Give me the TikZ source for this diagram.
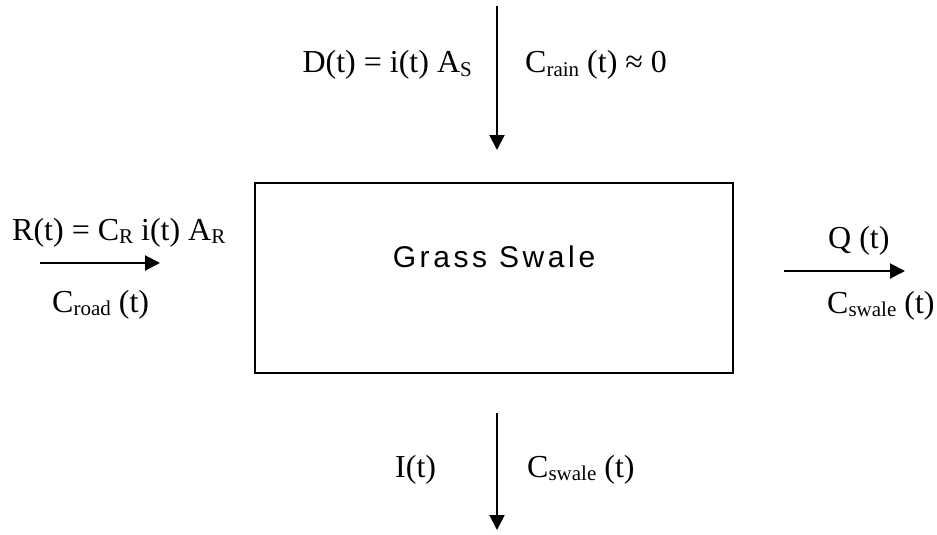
\documentclass[tikz,border=0pt]{standalone}
\usepackage{fontspec}
\setmainfont{Liberation Serif}
\newfontfamily\boxfont[LetterSpace=12]{Liberation Sans}
\usetikzlibrary{arrows.meta}
\newcommand\subtxt[1]{\raisebox{-0.12em}{\fontsize{21}{21}\selectfont #1}}
\begin{document}
\begin{tikzpicture}[x=1pt,y=-1pt,
  lbl/.style={inner sep=0pt,font=\fontsize{32}{38}\selectfont},
  flow/.style={line width=2pt,-{Triangle[length=15pt,width=15pt]}},
  boxst/.style={draw,line width=2pt}]
\useasboundingbox (0,0) rectangle (937,535);
\draw[boxst] (255,183) rectangle (733,373);
\node[inner sep=0pt,anchor=base,font=\boxfont\fontsize{30}{36}\selectfont] (swale) at (494,267) {Grass Swale};
% top
\coordinate (t0) at (497,6);
\coordinate (t1) at (497,150);
\draw[flow] (t0) -- (t1);
\node[lbl,anchor=base east] (dt) at (472,73) {D(t) = i(t) A\subtxt{S}};
\node[lbl,anchor=base west] (crain) at (525,73) {C\subtxt{rain} (t) ≈ 0};
% left
\coordinate (l0) at (40,263);
\coordinate (l1) at (160,263);
\draw[flow] (l0) -- (l1);
\node[lbl,anchor=base west] (rt) at (12,240) {R(t) = C\subtxt{R} i(t) A\subtxt{R}};
\node[lbl,anchor=base west] (croad) at (52,312) {C\subtxt{road} (t)};
% right
\coordinate (r0) at (784,271);
\coordinate (r1) at (905,271);
\draw[flow] (r0) -- (r1);
\node[lbl,anchor=base west] (qt) at (828,248) {Q (t)};
\node[lbl,anchor=base west] (cswr) at (827,313) {C\subtxt{swale} (t)};
% bottom
\coordinate (b0) at (497,413);
\coordinate (b1) at (497,530);
\draw[flow] (b0) -- (b1);
\node[lbl,anchor=base west] (it) at (395,477) {I(t)};
\node[lbl,anchor=base west] (cswb) at (527,477) {C\subtxt{swale} (t)};
\end{tikzpicture}
\end{document}
